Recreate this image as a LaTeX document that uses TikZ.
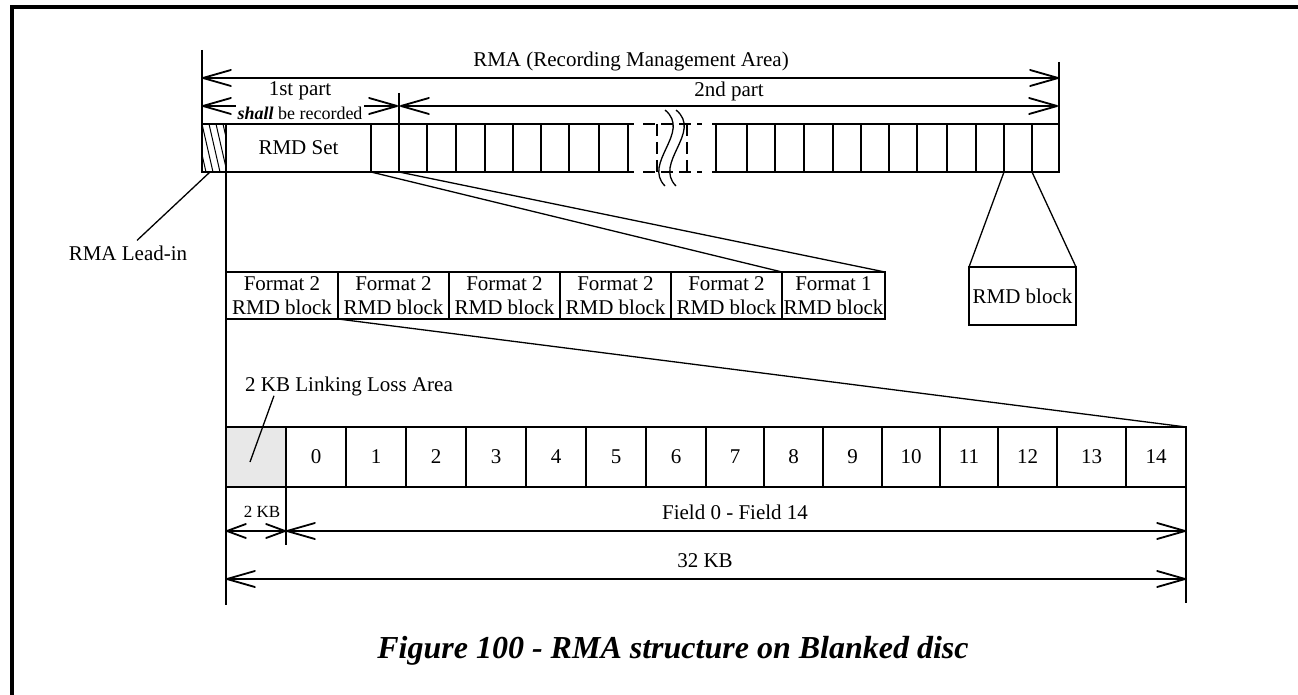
\documentclass[tikz,border=0pt]{standalone}
\usepackage{fontspec}
\setmainfont{Liberation Serif}
\usetikzlibrary{arrows.meta,calc}
\begin{document}
\begin{tikzpicture}[x=1pt,y=-1pt,
  box/.style={draw, line width=2.6pt, inner sep=0pt, outer sep=0pt, anchor=north west,
    font=\fontsize{21}{24}\selectfont, align=center},
  thinline/.style={line width=1.3pt},
  ext/.style={line width=2.4pt},
  dimline/.style={line width=1.8pt, {Straight Barb[length=28pt,width=16pt,round]}-{Straight Barb[length=28pt,width=16pt,round]}},
  dimsmall/.style={line width=1.8pt, {Straight Barb[length=19pt,width=14pt,round]}-{Straight Barb[length=19pt,width=14pt,round]}},
  lbl/.style={font=\fontsize{21}{22}\selectfont, inner sep=0pt},
  smalllbl/.style={font=\fontsize{18}{19}\selectfont, inner sep=1.5pt},
]
\useasboundingbox (0,0) rectangle (1298,695);
% frame
\draw[line width=4pt] (12,710) -- (12,7) -- (1310,7);

% ---------- top row ----------
\begin{scope}
  \clip (202,124) rectangle (226,172);
  \foreach \x in {188,195,...,230} \draw[line width=1pt] (\x,124) -- (\x+11,172);
\end{scope}
\node[box, minimum width=24pt, minimum height=48pt] (lead) at (202,124) {};
\node[box, minimum width=145pt, minimum height=48pt] (rmdset) at (226,124) {RMD Set};
\foreach \a/\b [count=\i] in {371/399,399/427,427/456,456/485,485/513,513/541,541/569,569/599,599/628}{
  \pgfmathsetmacro\w{\b-\a}
  \node[box, minimum width=\w pt, minimum height=48pt] (ta\i) at (\a,124) {};
}
\foreach \a/\b [count=\i] in {716/747,747/775,775/804,804/833,833/861,861/889,889/917,917/947,947/976,976/1004,1004/1032,1032/1059}{
  \pgfmathsetmacro\w{\b-\a}
  \node[box, minimum width=\w pt, minimum height=48pt] (tb\i) at (\a,124) {};
}
% break
\draw[ext] (ta9.north east) -- ++(6,0);
\draw[ext] (ta9.south east) -- ++(6,0);
\draw[ext] (tb1.north west) -- ++(-4,0);
\draw[ext] (tb1.south west) -- ++(-4,0);
\begin{scope}[ext, dash pattern=on 12pt off 6pt]
  \draw (643,124) -- (702,124);
  \draw (643,172) -- (702,172);
  \draw (657,124) -- (657,172);
  \draw (687,124) -- (687,172);
\end{scope}
\draw[thinline] (665,110) .. controls (692,132) and (642,163) .. (665,186);
\draw[thinline] (676,110) .. controls (703,132) and (653,163) .. (676,186);

% ---------- top dimensions ----------
\coordinate (topL) at (202,50);
\coordinate (topR) at (1059,62);
\coordinate (midT) at (399,93);
\draw[ext] (topL) -- (lead.north west);
\draw[ext] (topR) -- (tb12.north east);
\draw[ext] (midT) -- (ta1.north east);
\coordinate (rmaA) at (202,78);
\coordinate (rmaB) at (1059,78);
\coordinate (p1A) at (202,106);
\coordinate (p1B) at (398,106);
\coordinate (p2A) at (400,106);
\coordinate (p2B) at (1058,106);
\draw[dimline] (rmaA) -- (rmaB);
\draw[dimline] (p1A) -- (p1B);
\draw[dimline] (p2A) -- (p2B);
\node[lbl] (rmaT) at (631,61) {RMA (Recording Management Area)};
\node[lbl] (p1T) at (300,91) {1st part};
\node[smalllbl, fill=white] (p1S) at (300,113) {\textbf{\textit{shall}} be recorded};
\node[lbl] (p2T) at (729,91) {2nd part};

% ---------- lead-in label ----------
\node[lbl] (leadT) at (128,253) {RMA Lead-in};
\draw[thinline] ([xshift=-4pt]lead.south) -- ([xshift=9pt,yshift=5pt]leadT.north);

% ---------- long left vertical ----------
\coordinate (botL) at (226,605);
\draw[line width=2.6pt] (rmdset.south west) -- (botL);

% ---------- format blocks ----------
\foreach \a/\b/\n [count=\i] in {226/338/2,338/449/2,449/560/2,560/671/2,671/782/2,782/885/1}{
  \pgfmathsetmacro\w{\b-\a}
  \node[box, minimum width=\w pt, minimum height=47pt] (f\i) at (\a,272) {Format \n\\RMD block};
}
\draw[thinline] (rmdset.south east) -- (f5.north east);
\draw[thinline] (ta1.south east) -- (f6.north east);

% ---------- RMD block ----------
\node[box, minimum width=107pt, minimum height=58pt] (rmdb) at (969,267) {RMD block};
\draw[thinline] (tb11.south west) -- (rmdb.north west);
\draw[thinline] (tb11.south east) -- (rmdb.north east);

% ---------- bottom cells ----------
\node[box, fill=gray!18, minimum width=60pt, minimum height=60pt] (g) at (226,427) {};
\foreach \a/\b [count=\i] in {286/346,346/406,406/466,466/526,526/586,586/646,646/706,706/764,764/823,823/882,882/940,940/998,998/1057,1057/1126,1126/1186}{
  \pgfmathsetmacro\w{\b-\a}
  \pgfmathtruncatemacro\k{\i-1}
  \node[box, minimum width=\w pt, minimum height=60pt] (n\k) at (\a,427) {\k};
}
\draw[thinline] (f1.south east) -- (n14.north east);

\node[lbl] (lla) at (349,386) {2 KB Linking Loss Area};
\draw[thinline] ($(g.center)+(-6,5)$) -- ($(lla.south west)+(29,0)$);

% ---------- bottom dimensions ----------
\coordinate (gx) at (286,545);
\coordinate (botR) at (1186,603);
\draw[ext] (g.south east) -- (gx);
\draw[ext] (n14.south east) -- (botR);
\coordinate (d1) at (226,531);
\coordinate (d2) at (286,531);
\coordinate (d3) at (1186,531);
\coordinate (d4) at (226,579);
\coordinate (d5) at (1186,579);
\draw[dimsmall] (d1) -- (d2);
\draw[dimline] (d2) -- (d3);
\draw[dimline] (d4) -- (d5);
\node[font=\fontsize{17}{18}\selectfont, inner sep=0pt] (t2kb) at (262,512) {2 KB};
\node[lbl] (tf) at (735,512) {Field 0 - Field 14};
\node[lbl] (t32) at (705,561) {32 KB};

% ---------- caption ----------
\node[font=\fontsize{32}{34}\selectfont\bfseries\itshape, inner sep=0pt] (cap) at (673,651) {Figure 100 - RMA structure on Blanked disc};
\end{tikzpicture}
\end{document}
